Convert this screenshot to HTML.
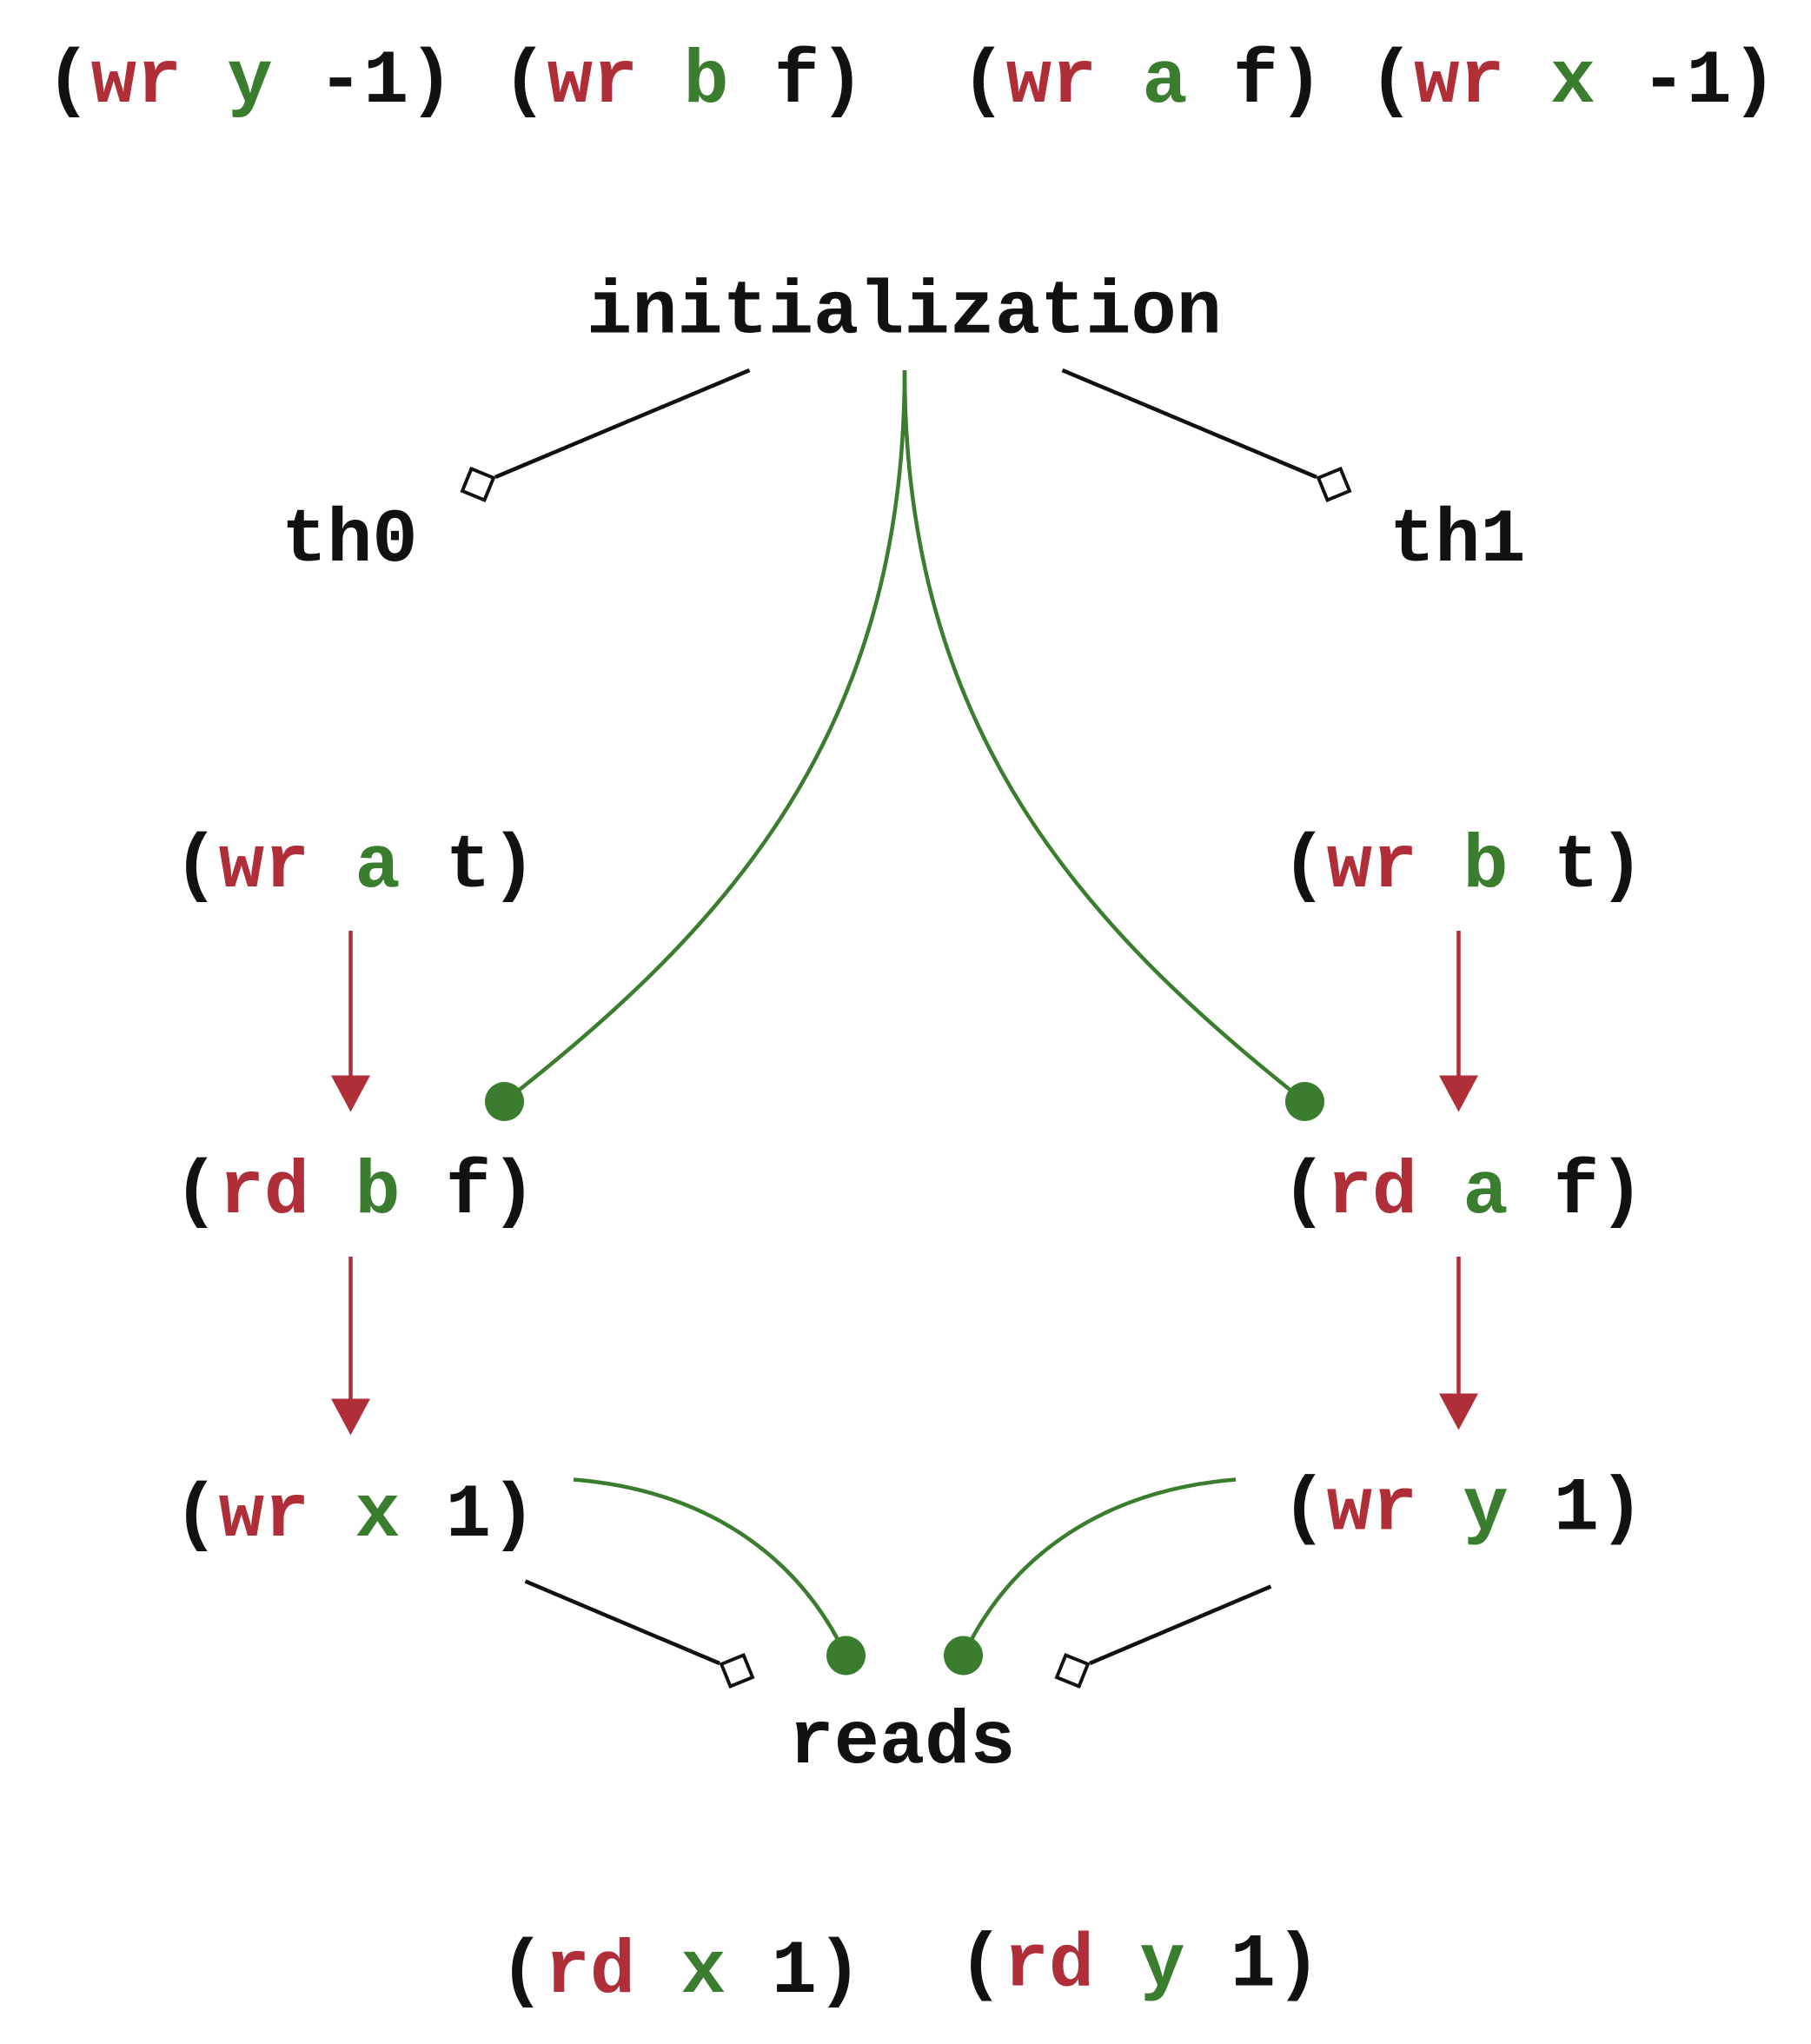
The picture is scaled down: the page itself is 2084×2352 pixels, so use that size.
<!DOCTYPE html>
<html><head><meta charset="utf-8"><style>
html,body{margin:0;padding:0;background:#fff;}
svg{display:block;}
text{font-family:"Liberation Mono",monospace;font-size:58px;font-weight:bold;fill:#111;}
.r{fill:#b02e38;}.g{fill:#3a7d2e;}
</style></head><body>
<svg width="2084" height="2352" viewBox="0 0 1389.33 1568" xmlns="http://www.w3.org/2000/svg">
<defs>
<marker id="dm" markerUnits="userSpaceOnUse" markerWidth="30" markerHeight="30" refX="0" refY="15" orient="auto" viewBox="0 0 30 30">
<path d="M1.5,15 L14.5,2 L27.5,15 L14.5,28 Z" fill="#fff" stroke="#111" stroke-width="2.6"/>
</marker>
<marker id="ar" markerUnits="userSpaceOnUse" markerWidth="36" markerHeight="30" refX="0" refY="15" orient="auto" viewBox="0 0 36 30">
<path d="M0,0 L28,15 L0,30 Z" fill="#b02e38"/>
</marker>
</defs>
<g>
<text x="35" y="78">(<tspan class="r">wr</tspan> <tspan class="g">y</tspan> -1)</text>
<text x="385" y="78">(<tspan class="r">wr</tspan> <tspan class="g">b</tspan> f)</text>
<text x="737" y="78">(<tspan class="r">wr</tspan> <tspan class="g">a</tspan> f)</text>
<text x="1050" y="78">(<tspan class="r">wr</tspan> <tspan class="g">x</tspan> -1)</text>
<text x="450" y="255">initialization</text>
<text x="216" y="430">th0</text>
<text x="1066" y="430">th1</text>
<text x="133" y="680">(<tspan class="r">wr</tspan> <tspan class="g">a</tspan> t)</text>
<text x="983" y="680">(<tspan class="r">wr</tspan> <tspan class="g">b</tspan> t)</text>
<text x="133" y="930">(<tspan class="r">rd</tspan> <tspan class="g">b</tspan> f)</text>
<text x="983" y="930">(<tspan class="r">rd</tspan> <tspan class="g">a</tspan> f)</text>
<text x="133" y="1178">(<tspan class="r">wr</tspan> <tspan class="g">x</tspan> 1)</text>
<text x="983" y="1173">(<tspan class="r">wr</tspan> <tspan class="g">y</tspan> 1)</text>
<text x="605" y="1352">reads</text>
<text x="383" y="1528">(<tspan class="r">rd</tspan> <tspan class="g">x</tspan> 1)</text>
<text x="735" y="1523">(<tspan class="r">rd</tspan> <tspan class="g">y</tspan> 1)</text>
</g>
<g fill="none" stroke-width="3">
<line x1="575" y1="284" x2="380" y2="366" stroke="#111" marker-end="url(#dm)"/>
<line x1="815" y1="284" x2="1010" y2="366" stroke="#111" marker-end="url(#dm)"/>
<line x1="403" y1="1213" x2="552" y2="1276" stroke="#111" marker-end="url(#dm)"/>
<line x1="975" y1="1217" x2="836" y2="1276" stroke="#111" marker-end="url(#dm)"/>
<path d="M694,284 C694,560 560,710 387,845" stroke="#3a7d2e"/>
<path d="M694,284 C694,560 830,710 1001,845" stroke="#3a7d2e"/>
<path d="M440,1135 C540,1143 612,1192 649,1270" stroke="#3a7d2e"/>
<path d="M948,1135 C848,1143 776,1192 739,1270" stroke="#3a7d2e"/>
<line x1="269" y1="714" x2="269" y2="825" stroke="#b02e38" marker-end="url(#ar)"/>
<line x1="269" y1="964" x2="269" y2="1073" stroke="#b02e38" marker-end="url(#ar)"/>
<line x1="1119" y1="714" x2="1119" y2="825" stroke="#b02e38" marker-end="url(#ar)"/>
<line x1="1119" y1="964" x2="1119" y2="1069" stroke="#b02e38" marker-end="url(#ar)"/>
</g>
<g fill="#3a7d2e">
<circle cx="387" cy="845" r="15"/>
<circle cx="1001" cy="845" r="15"/>
<circle cx="649" cy="1270" r="15"/>
<circle cx="739" cy="1270" r="15"/>
</g>
</svg>
</body></html>
